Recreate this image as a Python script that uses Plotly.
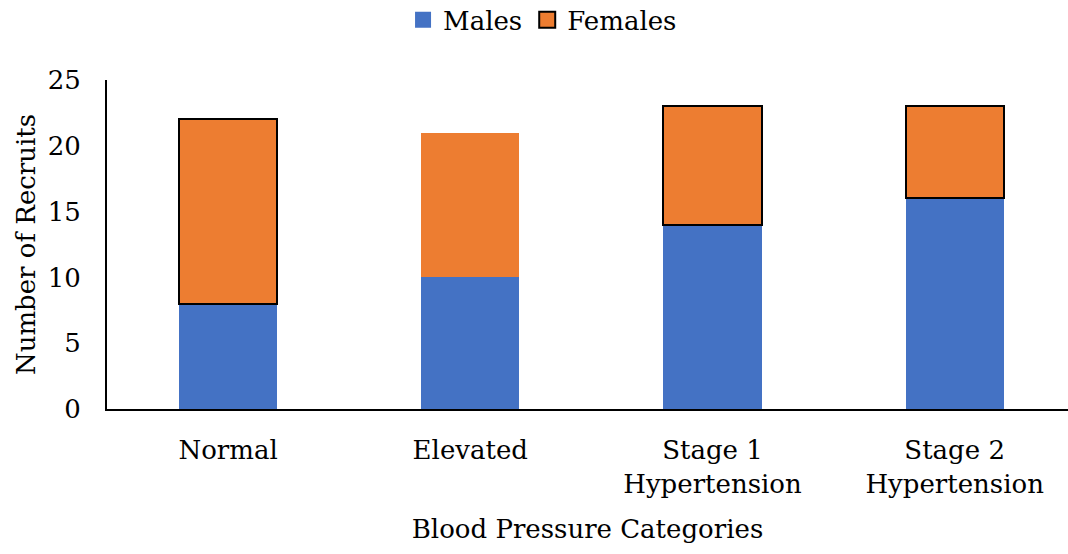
import plotly.graph_objects as go

categories = ["Normal", "Elevated", "Stage 1<br>Hypertension", "Stage 2<br>Hypertension"]
males = [8, 10, 14, 16]
females = [14, 11, 9, 7]
female_outline = [2, 0, 2, 2]

BLUE = "#4472C4"
ORANGE = "#ED7D31"
FONT = "DejaVu Serif, Liberation Serif, serif"
FS = 26

fig = go.Figure()
fig.add_trace(go.Bar(x=categories, y=males, name="Males", showlegend=False,
                     marker=dict(color=BLUE, line=dict(width=0))))
fig.add_trace(go.Bar(x=categories, y=females, name="Females", showlegend=False,
                     marker=dict(color=ORANGE,
                                 line=dict(color="black", width=female_outline))))
# legend entries with larger square swatches
fig.add_trace(go.Scatter(x=[None], y=[None], mode="markers", name="Males",
                         marker=dict(symbol="square", size=19, color=BLUE,
                                     line=dict(width=0))))
fig.add_trace(go.Scatter(x=[None], y=[None], mode="markers", name="Females",
                         marker=dict(symbol="square", size=17, color=ORANGE,
                                     line=dict(width=2, color="black"))))

fig.update_layout(
    barmode="stack",
    bargap=0.595,
    width=1068, height=554,
    margin=dict(l=107, r=0, t=80, b=145),
    plot_bgcolor="white", paper_bgcolor="white",
    font=dict(family=FONT, size=FS, color="black"),
    legend=dict(orientation="h", x=0.508, xref="container", xanchor="center",
                y=0.964, yref="container", yanchor="middle",
                font=dict(size=FS), traceorder="normal", itemwidth=30,
                entrywidth=0),
    showlegend=True,
)
fig.update_xaxes(range=[-0.5, 3.468], showline=True, linecolor="black", linewidth=2,
                 ticks="", ticklabelstandoff=17,
                 title=dict(text="Blood Pressure Categories", standoff=22, font=dict(size=FS)))
fig.update_yaxes(range=[0, 25], dtick=5, showline=True, linecolor="black", linewidth=2,
                 showgrid=False, zeroline=False, ticks="", ticklabelstandoff=19,
                 title=dict(text="Number of Recruits", standoff=5, font=dict(size=FS)))

fig.write_html("out.html")
